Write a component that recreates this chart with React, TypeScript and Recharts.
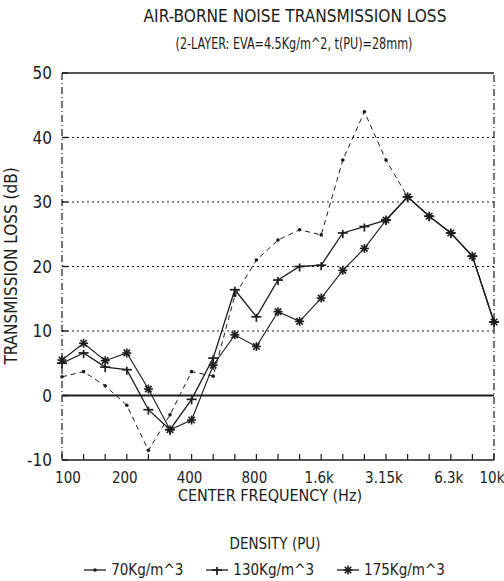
import React from "react";
import {
  LineChart,
  Line,
  XAxis,
  YAxis,
  CartesianGrid,
  ReferenceLine,
  Legend,
} from "recharts";

// 1/3-octave centre frequencies
const freqs = [
  "100", "125", "160", "200", "250", "315", "400", "500", "630", "800",
  "1k", "1.25k", "1.6k", "2k", "2.5k", "3.15k", "4k", "5k", "6.3k", "8k", "10k",
];
const labeledFreqs = ["100", "200", "400", "800", "1.6k", "3.15k", "6.3k", "10k"];
const yTicks = [-10, 0, 10, 20, 30, 40, 50];

// transmission loss (dB) per PU density
const tl70 = [
  2.9, 3.7, 1.5, -1.5, -8.5, -3.0, 3.7, 3.0, 15.5, 21.0,
  24.1, 25.7, 24.9, 36.5, 44.0, 36.5, 30.8, 27.8, 25.2, 21.6, 11.4,
];
const tl130 = [
  5.0, 6.6, 4.4, 4.0, -2.2, -5.3, -0.6, 5.8, 16.4, 12.2,
  17.9, 20.0, 20.2, 25.2, 26.2, 27.2, 30.8, 27.8, 25.2, 21.6, 11.4,
];
const tl175 = [
  5.5, 8.1, 5.4, 6.6, 1.0, -5.3, -3.8, 4.7, 9.4, 7.6,
  13.0, 11.5, 15.1, 19.4, 22.8, 27.2, 30.8, 27.8, 25.2, 21.6, 11.4,
];

const data = freqs.map((f, i) => ({
  freq: f,
  d70: tl70[i],
  d130: tl130[i],
  d175: tl175[i],
}));

const INK = "#1c1c1c";
const FONT = "'Liberation Sans Narrow', 'DejaVu Sans Condensed', 'Liberation Sans', sans-serif";

function SmallDot({ cx, cy }: any) {
  if (cx == null || cy == null) return null;
  return <circle cx={cx} cy={cy} r={1.8} fill={INK} />;
}

function PlusDot({ cx, cy }: any) {
  if (cx == null || cy == null) return null;
  return (
    <g stroke={INK} strokeWidth={1.7}>
      <line x1={cx - 5} x2={cx + 5} y1={cy} y2={cy} />
      <line x1={cx} x2={cx} y1={cy - 3} y2={cy + 5} />
    </g>
  );
}

function StarDot({ cx, cy }: any) {
  if (cx == null || cy == null) return null;
  const r = 4.5;
  const d = r * 0.72;
  return (
    <g stroke={INK} strokeWidth={1.6}>
      <line x1={cx - r} x2={cx + r} y1={cy} y2={cy} />
      <line x1={cx} x2={cx} y1={cy - r} y2={cy + r} />
      <line x1={cx - d} x2={cx + d} y1={cy - d} y2={cy + d} />
      <line x1={cx - d} x2={cx + d} y1={cy + d} y2={cy - d} />
    </g>
  );
}

function FreqTick({ x, y, payload }: any) {
  const v = payload.value;
  const show = labeledFreqs.includes(v);
  const dx = v === "100" ? 6 : -2;
  return (
    <g>
      <line x1={x} x2={x} y1={y} y2={y - 6} stroke={INK} strokeWidth={1.2} />
      {show && (
        <text x={x + dx} y={y + 23} textAnchor="middle" fontSize={15} fill={INK} fontFamily={FONT}>
          {v}
        </text>
      )}
    </g>
  );
}

function LossTick({ x, y, payload }: any) {
  return (
    <g>
      <line x1={x} x2={x + 6} y1={y} y2={y} stroke={INK} strokeWidth={1.4} />
      <text
        x={x - 10}
        y={y + 6}
        textAnchor="end"
        fontSize={17}
        fill={INK}
        fontFamily={FONT}
      >
        {payload.value}
      </text>
    </g>
  );
}

const legendItems = [
  { key: "d70", label: "70Kg/m^3", Marker: SmallDot },
  { key: "d130", label: "130Kg/m^3", Marker: PlusDot },
  { key: "d175", label: "175Kg/m^3", Marker: StarDot },
];

function DensityLegend() {
  return (
    <div style={{ fontFamily: FONT, color: INK, textAlign: "center", paddingLeft: 24 }}>
      <div style={{ fontSize: 15, lineHeight: "18px", marginLeft: 22 }}>DENSITY (PU)</div>
      <div
        style={{
          display: "flex",
          justifyContent: "center",
          gap: 22,
          marginTop: 8,
          fontSize: 15,
          lineHeight: "18px",
        }}
      >
        {legendItems.map(({ key, label, Marker }) => (
          <span key={key} style={{ display: "flex", alignItems: "center", gap: 4 }}>
            <svg width={24} height={12}>
              <line x1={1} x2={23} y1={6} y2={6} stroke={INK} strokeWidth={1.3} />
              <Marker cx={12} cy={6} />
            </svg>
            {label}
          </span>
        ))}
      </div>
    </div>
  );
}

export default function App() {
  return (
    <div style={{ position: "absolute", left: 0, top: 0, width: 504, height: 581, background: "#fff" }}>
      <div
        style={{
          position: "absolute",
          left: 95,
          top: 6,
          width: 400,
          textAlign: "center",
          fontFamily: FONT,
          fontSize: 18,
          lineHeight: "20px",
          color: INK,
          transform: "scaleX(0.95)",
        }}
      >
        AIR-BORNE NOISE TRANSMISSION LOSS
      </div>
      <div
        style={{
          position: "absolute",
          left: 94,
          top: 35,
          width: 400,
          textAlign: "center",
          fontFamily: FONT,
          fontSize: 15,
          lineHeight: "18px",
          color: INK,
          transform: "scaleX(0.83)",
        }}
      >
        (2-LAYER: EVA=4.5Kg/m^2, t(PU)=28mm)
      </div>
      <LineChart
        width={504}
        height={581}
        data={data}
        margin={{ top: 73, right: 10, bottom: 0, left: 0 }}
      >
        <CartesianGrid
          vertical={false}
          horizontalValues={[10, 20, 30, 40]}
          stroke={INK}
          strokeWidth={1.2}
          strokeDasharray="2 3"
        />
        <XAxis
          dataKey="freq"
          interval={0}
          height={121}
          tickSize={0}
          tickMargin={0}
          tickLine={false}
          axisLine={{ stroke: INK, strokeWidth: 1.6 }}
          tick={<FreqTick />}
          label={() => (
            <text
              x={270}
              y={501}
              textAnchor="middle"
              fontSize={16}
              fill={INK}
              fontFamily={FONT}
            >
              CENTER FREQUENCY (Hz)
            </text>
          )}
        />
        <YAxis
          width={62}
          domain={[-10, 50]}
          ticks={yTicks}
          interval={0}
          tickSize={0}
          tickMargin={0}
          tickLine={false}
          axisLine={{ stroke: INK, strokeWidth: 1.2, strokeDasharray: "7 3 1 3" }}
          tick={<LossTick />}
          label={() => (
            <text
              x={0}
              y={0}
              transform="translate(17, 266) rotate(-90)"
              textAnchor="middle"
              fontSize={17}
              fill={INK}
              fontFamily={FONT}
            >
              TRANSMISSION LOSS (dB)
            </text>
          )}
        />
        <ReferenceLine y={50} stroke={INK} strokeWidth={1.6} />
        <ReferenceLine y={0} stroke={INK} strokeWidth={2.2} />
        <ReferenceLine x="10k" stroke={INK} strokeWidth={1.2} strokeDasharray="7 3 1 3" />
        <Legend
          verticalAlign="middle"
          align="center"
          layout="horizontal"
          wrapperStyle={{ top: 535, left: 0, width: 504 }}
          content={() => <DensityLegend />}
        />
        <Line
          name="70Kg/m^3"
          dataKey="d70"
          type="linear"
          stroke={INK}
          strokeWidth={1}
          strokeDasharray="5 4"
          dot={(p: any) => <SmallDot key={`a${p.index}`} {...p} />}
          activeDot={false}
          isAnimationActive={false}
        />
        <Line
          name="130Kg/m^3"
          dataKey="d130"
          type="linear"
          stroke={INK}
          strokeWidth={1.3}
          dot={(p: any) => <PlusDot key={`b${p.index}`} {...p} />}
          activeDot={false}
          isAnimationActive={false}
        />
        <Line
          name="175Kg/m^3"
          dataKey="d175"
          type="linear"
          stroke={INK}
          strokeWidth={1.1}
          dot={(p: any) => <StarDot key={`c${p.index}`} {...p} />}
          activeDot={false}
          isAnimationActive={false}
        />
      </LineChart>
    </div>
  );
}
